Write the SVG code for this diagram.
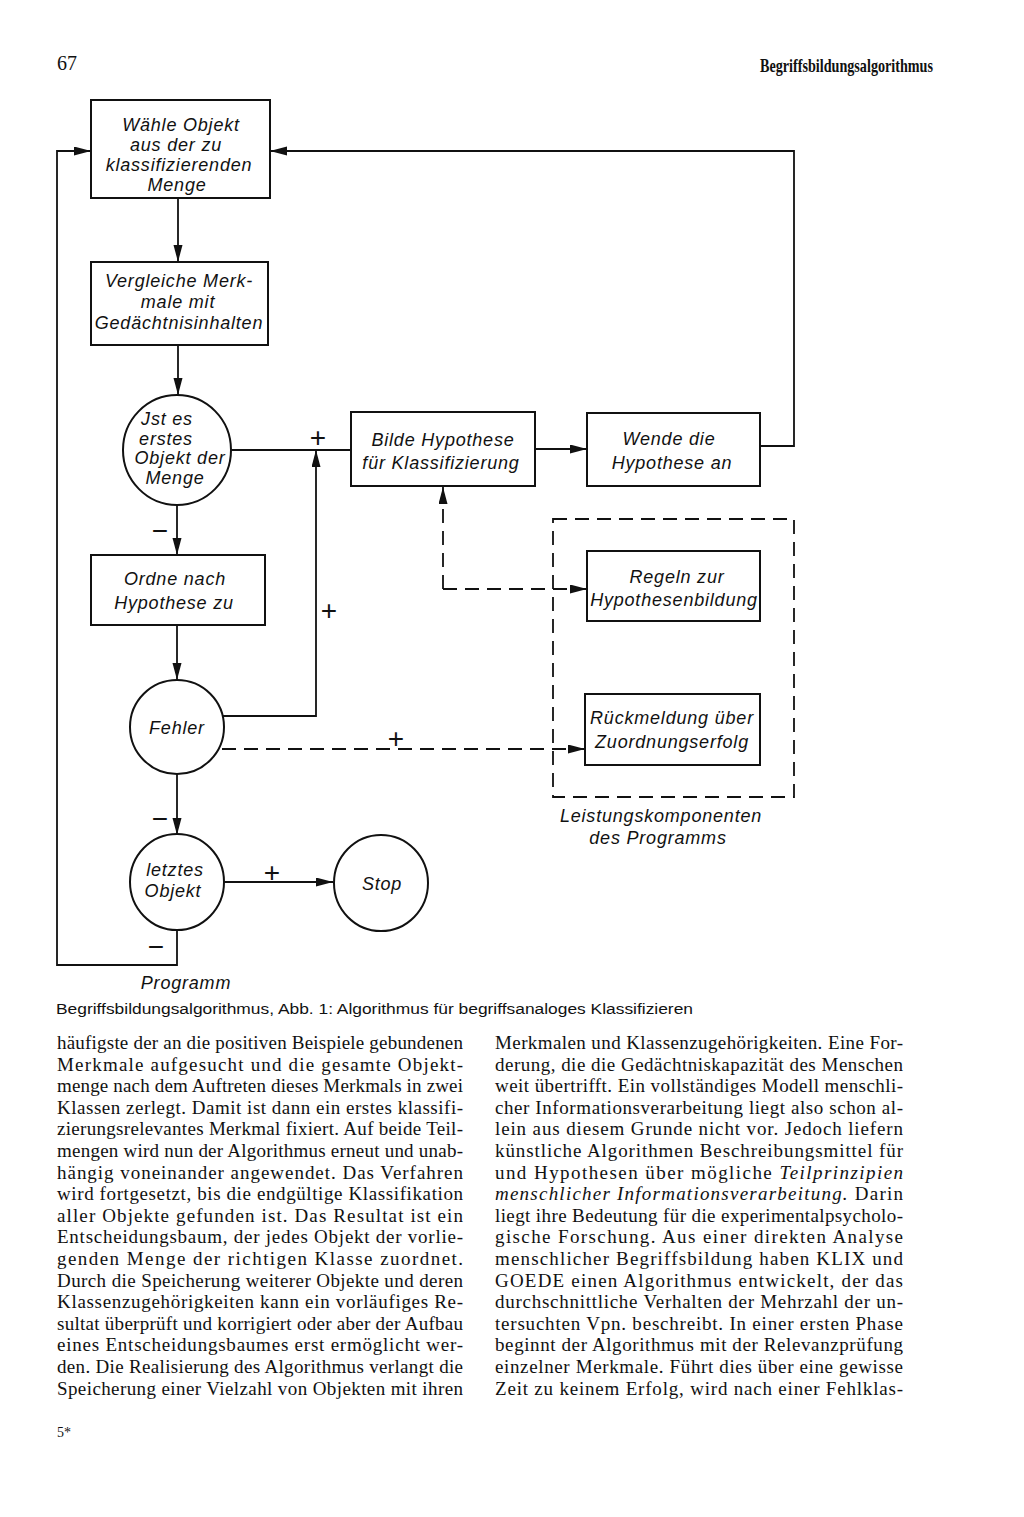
<svg xmlns="http://www.w3.org/2000/svg" width="1024" height="1517" viewBox="0 0 1024 1517">
<defs>
<marker id="ah" markerUnits="userSpaceOnUse" markerWidth="18" markerHeight="10" refX="17" refY="4.5" orient="auto">
<path d="M0,0 L17,4.5 L0,9 z" fill="#111"/>
</marker>
</defs>
<style>
.n{fill:none;stroke:#111;stroke-width:2}
.c{fill:none;stroke:#111;stroke-width:1.8}
.d{fill:none;stroke:#111;stroke-width:1.8;stroke-dasharray:14 8}
.l{font-family:"Liberation Sans","DejaVu Sans",sans-serif;font-style:italic;font-size:18px;letter-spacing:0.8px;fill:#111;text-anchor:middle}
.s{font-family:"Liberation Sans","DejaVu Sans",sans-serif;font-size:28px;fill:#111;text-anchor:middle}
.b{font-family:"Liberation Serif","DejaVu Serif",serif;font-size:19px;fill:#111}
.i{font-style:italic}
</style>
<rect width="1024" height="1517" fill="#fff"/>
<text x="57" y="70" font-family="Liberation Serif,serif" font-size="20" fill="#111">67</text>
<text x="760" y="72" font-family="Liberation Serif,serif" font-size="19" font-weight="bold" fill="#111" textLength="173" lengthAdjust="spacingAndGlyphs">Begriffsbildungsalgorithmus</text>

<g id="connectors">
<path class="c" d="M178,198 V262" marker-end="url(#ah)"/>
<path class="c" d="M178,345 V395" marker-end="url(#ah)"/>
<path class="c" d="M231,450 H351"/>
<path class="c" d="M222,716 H316 V450" marker-end="url(#ah)"/>
<path class="c" d="M535,449 H587" marker-end="url(#ah)"/>
<path class="c" d="M760,446 H794 V151 H270" marker-end="url(#ah)"/>
<path class="c" d="M177,505 V555" marker-end="url(#ah)"/>
<path class="c" d="M177,625 V680" marker-end="url(#ah)"/>
<path class="c" d="M177,773 V835" marker-end="url(#ah)"/>
<path class="c" d="M224,882 H333" marker-end="url(#ah)"/>
<path class="c" d="M177,930 V965 H57 V151 H91" marker-end="url(#ah)"/>
<path class="d" d="M443,589 V487" marker-end="url(#ah)"/>
<path class="d" d="M443,589 H587" marker-end="url(#ah)"/>
<path class="d" d="M222,749 H585" marker-end="url(#ah)"/>
<rect class="d" x="553" y="519" width="241" height="278"/>
<text class="s" x="318" y="447">+</text>
<text class="s" x="329" y="620">+</text>
<text class="s" x="396" y="748">+</text>
<text class="s" x="272" y="882">+</text>
<text class="s" x="160" y="540">−</text>
<text class="s" x="160" y="828">−</text>
<text class="s" x="156" y="956">−</text>
</g>

<g id="n1"><rect class="n" x="91" y="100" width="179" height="98"/>
<text class="l" x="181" y="131">Wähle Objekt</text>
<text class="l" x="176" y="151">aus der zu</text>
<text class="l" x="179" y="171">klassifizierenden</text>
<text class="l" x="177" y="191">Menge</text></g>

<g id="n2"><rect class="n" x="91" y="262" width="177" height="83"/>
<text class="l" x="179" y="287">Vergleiche Merk-</text>
<text class="l" x="178" y="308">male mit</text>
<text class="l" x="179" y="329">Gedächtnisinhalten</text></g>

<g id="n3"><ellipse class="n" cx="177" cy="450" rx="54" ry="55"/>
<text class="l" x="167" y="425">Jst es</text>
<text class="l" x="166" y="445">erstes</text>
<text class="l" x="180" y="464">Objekt der</text>
<text class="l" x="175" y="484">Menge</text></g>

<g id="n4"><rect class="n" x="351" y="412" width="184" height="74"/>
<text class="l" x="443" y="446">Bilde Hypothese</text>
<text class="l" x="441" y="469">für Klassifizierung</text></g>

<g id="n5"><rect class="n" x="587" y="413" width="173" height="73"/>
<text class="l" x="669" y="445">Wende die</text>
<text class="l" x="672" y="469">Hypothese an</text></g>

<g id="n6"><rect class="n" x="587" y="551" width="173" height="70"/>
<text class="l" x="677" y="583">Regeln zur</text>
<text class="l" x="674" y="606">Hypothesenbildung</text></g>

<g id="n7"><rect class="n" x="585" y="694" width="175" height="71"/>
<text class="l" x="672" y="724">Rückmeldung über</text>
<text class="l" x="672" y="748">Zuordnungserfolg</text></g>

<g id="n8"><rect class="n" x="91" y="555" width="174" height="70"/>
<text class="l" x="175" y="585">Ordne nach</text>
<text class="l" x="174" y="609">Hypothese zu</text></g>

<g id="n9"><ellipse class="n" cx="177" cy="727" rx="47" ry="47"/>
<text class="l" x="177" y="734">Fehler</text></g>

<g id="n10"><ellipse class="n" cx="177" cy="882" rx="47" ry="48"/>
<text class="l" x="175" y="876">letztes</text>
<text class="l" x="173" y="897">Objekt</text></g>

<g id="n11"><ellipse class="n" cx="381" cy="883" rx="47" ry="48"/>
<text class="l" x="382" y="890">Stop</text></g>

<g id="labels">
<text class="l" x="661" y="822">Leistungskomponenten</text>
<text class="l" x="658" y="844">des Programms</text>
<text class="l" x="186" y="989">Programm</text>
</g>

<text x="56" y="1014" font-family="Liberation Sans,Arial,sans-serif" font-size="15.5" fill="#111" textLength="637" lengthAdjust="spacingAndGlyphs">Begriffsbildungsalgorithmus, Abb. 1: Algorithmus für begriffsanaloges Klassifizieren</text>

<g id="col1" class="b">
<text x="57" y="1049" textLength="406" lengthAdjust="spacing">häufigste der an die positiven Beispiele gebundenen</text>
<text x="57" y="1070.6" textLength="406" lengthAdjust="spacing">Merkmale aufgesucht und die gesamte Objekt-</text>
<text x="57" y="1092.2" textLength="406" lengthAdjust="spacing">menge nach dem Auftreten dieses Merkmals in zwei</text>
<text x="57" y="1113.8" textLength="406" lengthAdjust="spacing">Klassen zerlegt. Damit ist dann ein erstes klassifi-</text>
<text x="57" y="1135.4" textLength="406" lengthAdjust="spacing">zierungsrelevantes Merkmal fixiert. Auf beide Teil-</text>
<text x="57" y="1157" textLength="406" lengthAdjust="spacing">mengen wird nun der Algorithmus erneut und unab-</text>
<text x="57" y="1178.6" textLength="406" lengthAdjust="spacing">hängig voneinander angewendet. Das Verfahren</text>
<text x="57" y="1200.2" textLength="406" lengthAdjust="spacing">wird fortgesetzt, bis die endgültige Klassifikation</text>
<text x="57" y="1221.8" textLength="406" lengthAdjust="spacing">aller Objekte gefunden ist. Das Resultat ist ein</text>
<text x="57" y="1243.4" textLength="406" lengthAdjust="spacing">Entscheidungsbaum, der jedes Objekt der vorlie-</text>
<text x="57" y="1265" textLength="406" lengthAdjust="spacing">genden Menge der richtigen Klasse zuordnet.</text>
<text x="57" y="1286.6" textLength="406" lengthAdjust="spacing">Durch die Speicherung weiterer Objekte und deren</text>
<text x="57" y="1308.2" textLength="406" lengthAdjust="spacing">Klassenzugehörigkeiten kann ein vorläufiges Re-</text>
<text x="57" y="1329.8" textLength="406" lengthAdjust="spacing">sultat überprüft und korrigiert oder aber der Aufbau</text>
<text x="57" y="1351.4" textLength="406" lengthAdjust="spacing">eines Entscheidungsbaumes erst ermöglicht wer-</text>
<text x="57" y="1373" textLength="406" lengthAdjust="spacing">den. Die Realisierung des Algorithmus verlangt die</text>
<text x="57" y="1394.6" textLength="406" lengthAdjust="spacing">Speicherung einer Vielzahl von Objekten mit ihren</text>
</g>

<g id="col2" class="b">
<text x="495" y="1049" textLength="408" lengthAdjust="spacing">Merkmalen und Klassenzugehörigkeiten. Eine For-</text>
<text x="495" y="1070.6" textLength="408" lengthAdjust="spacing">derung, die die Gedächtniskapazität des Menschen</text>
<text x="495" y="1092.2" textLength="408" lengthAdjust="spacing">weit übertrifft. Ein vollständiges Modell menschli-</text>
<text x="495" y="1113.8" textLength="408" lengthAdjust="spacing">cher Informationsverarbeitung liegt also schon al-</text>
<text x="495" y="1135.4" textLength="408" lengthAdjust="spacing">lein aus diesem Grunde nicht vor. Jedoch liefern</text>
<text x="495" y="1157" textLength="408" lengthAdjust="spacing">künstliche Algorithmen Beschreibungsmittel für</text>
<text x="495" y="1178.6" textLength="408" lengthAdjust="spacing">und Hypothesen über mögliche <tspan class="i">Teilprinzipien</tspan></text>
<text x="495" y="1200.2" textLength="408" lengthAdjust="spacing"><tspan class="i">menschlicher Informationsverarbeitung.</tspan> Darin</text>
<text x="495" y="1221.8" textLength="408" lengthAdjust="spacing">liegt ihre Bedeutung für die experimentalpsycholo-</text>
<text x="495" y="1243.4" textLength="408" lengthAdjust="spacing">gische Forschung. Aus einer direkten Analyse</text>
<text x="495" y="1265" textLength="408" lengthAdjust="spacing">menschlicher Begriffsbildung haben KLIX und</text>
<text x="495" y="1286.6" textLength="408" lengthAdjust="spacing">GOEDE einen Algorithmus entwickelt, der das</text>
<text x="495" y="1308.2" textLength="408" lengthAdjust="spacing">durchschnittliche Verhalten der Mehrzahl der un-</text>
<text x="495" y="1329.8" textLength="408" lengthAdjust="spacing">tersuchten Vpn. beschreibt. In einer ersten Phase</text>
<text x="495" y="1351.4" textLength="408" lengthAdjust="spacing">beginnt der Algorithmus mit der Relevanzprüfung</text>
<text x="495" y="1373" textLength="408" lengthAdjust="spacing">einzelner Merkmale. Führt dies über eine gewisse</text>
<text x="495" y="1394.6" textLength="408" lengthAdjust="spacing">Zeit zu keinem Erfolg, wird nach einer Fehlklas-</text>
</g>

<text x="57" y="1437" font-family="Liberation Serif,serif" font-size="14" fill="#111">5*</text>
</svg>
